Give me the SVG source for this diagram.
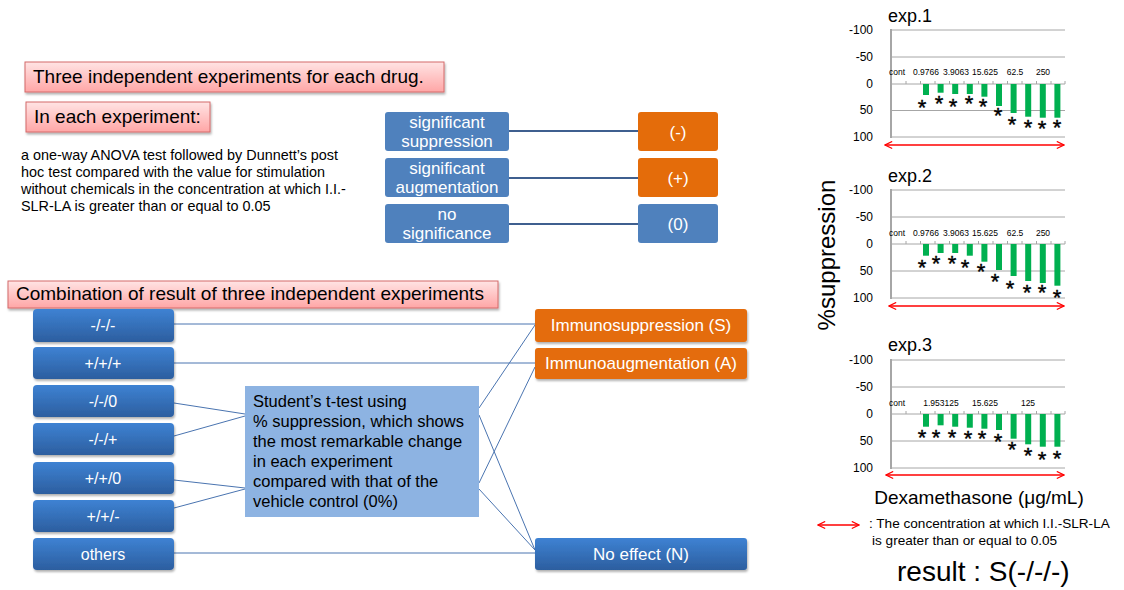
<svg xmlns="http://www.w3.org/2000/svg" width="1124" height="590" viewBox="0 0 1124 590">
<defs>
<style>
text{font-family:"Liberation Sans",Arial,sans-serif}
.w{fill:#fff}
.pink{fill:url(#pink);stroke:#D46A6A;stroke-width:1}
.bb{fill:url(#blueg)}
.mb{fill:#4F81BD}
.or{fill:#E46C0A}
.conn{stroke:#4A74B0;stroke-width:1;fill:none}
.conn2{stroke:#3F5F8F;stroke-width:2;fill:none}
.grid{stroke:#A6A6A6;stroke-width:1}
.axis{stroke:#A6A6A6;stroke-width:2}
.bar{fill:#00B050}
.ylab{font-size:12px;text-anchor:end;fill:#000}
.cat{font-size:8.5px;text-anchor:middle;fill:#000}
.ast{font-size:22px;text-anchor:middle;fill:#000;stroke:#000;stroke-width:0.4}
.ttl{font-size:18px;fill:#000}
.red{stroke:#FF0000;stroke-width:1.3;fill:none;marker-start:url(#ra);marker-end:url(#ra)}
</style>
<linearGradient id="pink" x1="0" y1="0" x2="0" y2="1"><stop offset="0" stop-color="#FFE4E4"/><stop offset="1" stop-color="#FFA6A6"/></linearGradient>
<linearGradient id="blueg" x1="0" y1="0" x2="0" y2="1"><stop offset="0" stop-color="#3E82D3"/><stop offset="1" stop-color="#2C5E9F"/></linearGradient>
<filter id="sh" x="-10%" y="-20%" width="130%" height="160%"><feDropShadow dx="1" dy="2" stdDeviation="1.2" flood-color="#000" flood-opacity="0.3"/></filter>
<marker id="ra" viewBox="0 0 10 10" refX="9" refY="5" markerWidth="9" markerHeight="9" markerUnits="userSpaceOnUse" orient="auto-start-reverse"><path d="M1,1 L9,5 L1,9" fill="none" stroke="#FF0000" stroke-width="1.3"/></marker>
</defs>

<!-- Top-left headers -->
<g id="hdr-three"><rect class="pink" x="25" y="62" width="419" height="30" filter="url(#sh)"/><text x="33" y="83" font-size="19">Three independent experiments for each drug.</text></g>
<g id="hdr-each"><rect class="pink" x="26" y="102" width="184" height="30" filter="url(#sh)"/><text x="34" y="123" font-size="19">In each experiment:</text></g>
<g id="para"><text font-size="14.4" fill="#000"><tspan x="21" y="160">a one-way ANOVA test followed by Dunnett’s post</tspan><tspan x="21" y="177">hoc test compared with the value for stimulation</tspan><tspan x="21" y="194">without chemicals in the concentration at which I.I.-</tspan><tspan x="21" y="211">SLR-LA is greater than or equal to 0.05</tspan></text></g>

<!-- Top middle classification -->
<g id="connectors-top">
<line class="conn2" x1="509" y1="131" x2="638" y2="131"/>
<line class="conn2" x1="509" y1="178" x2="638" y2="178"/>
<line class="conn2" x1="509" y1="224" x2="638" y2="224"/>
</g>
<g id="n-sigsup"><rect class="mb" x="385" y="112" width="124" height="39" rx="3"/><text class="w" font-size="17" text-anchor="middle"><tspan x="447" y="128">significant</tspan><tspan x="447" y="147">suppression</tspan></text></g>
<g id="n-sigaug"><rect class="mb" x="385" y="158" width="124" height="39" rx="3"/><text class="w" font-size="17" text-anchor="middle"><tspan x="447" y="174">significant</tspan><tspan x="447" y="193">augmentation</tspan></text></g>
<g id="n-nosig"><rect class="mb" x="385" y="204" width="124" height="39" rx="3"/><text class="w" font-size="17" text-anchor="middle"><tspan x="447" y="220">no</tspan><tspan x="447" y="239">significance</tspan></text></g>
<g id="n-minus"><rect class="or" x="638" y="112" width="80" height="39" rx="3"/><text class="w" x="678" y="138" font-size="17" text-anchor="middle">(-)</text></g>
<g id="n-plus"><rect class="or" x="638" y="158" width="80" height="39" rx="3"/><text class="w" x="678" y="184" font-size="17" text-anchor="middle">(+)</text></g>
<g id="n-zero"><rect class="mb" x="638" y="204" width="80" height="39" rx="3"/><text class="w" x="678" y="230" font-size="17" text-anchor="middle">(0)</text></g>

<!-- Bottom-left combination -->
<g id="hdr-comb"><rect class="pink" x="8" y="281" width="490" height="27" filter="url(#sh)"/><text x="16" y="300" font-size="19">Combination of result of three independent experiments</text></g>

<g id="connectors">
<line class="conn" x1="174" y1="324" x2="535" y2="324"/>
<line class="conn" x1="174" y1="363" x2="535" y2="363"/>
<line class="conn" x1="174" y1="403" x2="245" y2="414"/>
<line class="conn" x1="174" y1="436" x2="245" y2="416"/>
<line class="conn" x1="174" y1="480" x2="245" y2="488"/>
<line class="conn" x1="174" y1="508" x2="245" y2="489"/>
<line class="conn" x1="479" y1="408" x2="535" y2="325"/>
<line class="conn" x1="479" y1="415" x2="535" y2="550"/>
<line class="conn" x1="479" y1="483" x2="535" y2="367"/>
<line class="conn" x1="479" y1="489" x2="535" y2="550"/>
<line class="conn" x1="174" y1="553" x2="535" y2="553"/>
</g>

<g id="c1"><rect class="bb" x="33" y="309" width="141" height="33" rx="4" filter="url(#sh)"/><text class="w" x="103" y="331" font-size="16" text-anchor="middle">-/-/-</text></g>
<g id="c2"><rect class="bb" x="33" y="347" width="141" height="32" rx="4" filter="url(#sh)"/><text class="w" x="103" y="369" font-size="16" text-anchor="middle">+/+/+</text></g>
<g id="c3"><rect class="bb" x="33" y="385" width="141" height="32" rx="4" filter="url(#sh)"/><text class="w" x="103" y="407" font-size="16" text-anchor="middle">-/-/0</text></g>
<g id="c4"><rect class="bb" x="33" y="423" width="141" height="32" rx="4" filter="url(#sh)"/><text class="w" x="103" y="445" font-size="16" text-anchor="middle">-/-/+</text></g>
<g id="c5"><rect class="bb" x="33" y="462" width="141" height="32" rx="4" filter="url(#sh)"/><text class="w" x="103" y="484" font-size="16" text-anchor="middle">+/+/0</text></g>
<g id="c6"><rect class="bb" x="33" y="500" width="141" height="32" rx="4" filter="url(#sh)"/><text class="w" x="103" y="522" font-size="16" text-anchor="middle">+/+/-</text></g>
<g id="c7"><rect class="bb" x="33" y="538" width="141" height="32" rx="4" filter="url(#sh)"/><text class="w" x="103" y="560" font-size="16" text-anchor="middle">others</text></g>

<g id="ttest"><rect x="245" y="386" width="234" height="131" fill="#8DB3E2"/><text font-size="16.5" fill="#000"><tspan x="253" y="407">Student’s t-test using</tspan><tspan x="253" y="427">% suppression, which shows</tspan><tspan x="253" y="447">the most remarkable change</tspan><tspan x="253" y="467">in each experiment</tspan><tspan x="253" y="487">compared with that of the</tspan><tspan x="253" y="507">vehicle control (0%)</tspan></text></g>

<g id="r-s"><rect class="or" x="535" y="309" width="212" height="33" rx="3" filter="url(#sh)"/><text class="w" x="641" y="331" font-size="17" text-anchor="middle">Immunosuppression (S)</text></g>
<g id="r-a"><rect class="or" x="535" y="348" width="212" height="31" rx="3" filter="url(#sh)"/><text class="w" x="641" y="369" font-size="17" text-anchor="middle">Immunoaugmentation (A)</text></g>
<g id="r-n"><rect class="bb" x="535" y="538" width="212" height="32" rx="3" filter="url(#sh)"/><text class="w" x="641" y="560" font-size="17" text-anchor="middle">No effect (N)</text></g>

<!-- Charts -->
<g id="chart1">
<text class="ttl" x="888" y="22">exp.1</text>
<line class="grid" x1="891" y1="30" x2="1065" y2="30"/><line class="grid" x1="891" y1="57" x2="1065" y2="57"/><line class="grid" x1="891" y1="84" x2="1065" y2="84"/><line class="grid" x1="891" y1="110.5" x2="1065" y2="110.5"/><line class="grid" x1="891" y1="137" x2="1065" y2="137"/>
<path class="grid" d="M906,84v-3M920.5,84v-3M935,84v-3M949.5,84v-3M964,84v-3M978.5,84v-3M993,84v-3M1007.5,84v-3M1022,84v-3M1036.5,84v-3M1051,84v-3M1065,84v-3"/>
<line class="axis" x1="891" y1="29" x2="891" y2="138"/>
<text class="ylab" x="873" y="34">-100</text><text class="ylab" x="873" y="61">-50</text><text class="ylab" x="873" y="88">0</text><text class="ylab" x="873" y="114">50</text><text class="ylab" x="873" y="141">100</text>
<text class="cat" x="897" y="75">cont</text><text class="cat" x="926" y="75">0.9766</text><text class="cat" x="956" y="75">3.9063</text><text class="cat" x="985" y="75">15.625</text><text class="cat" x="1015" y="75">62.5</text><text class="cat" x="1043" y="75">250</text>
<rect class="bar" x="923" y="84" width="6" height="11"/><rect class="bar" x="937.6" y="84" width="6" height="8.7"/><rect class="bar" x="952.2" y="84" width="6" height="10"/><rect class="bar" x="966.8" y="84" width="6" height="10"/><rect class="bar" x="981.4" y="84" width="6" height="12.7"/><rect class="bar" x="996" y="84" width="6" height="22"/><rect class="bar" x="1010.6" y="84" width="6" height="29"/><rect class="bar" x="1025.2" y="84" width="6" height="32.7"/><rect class="bar" x="1039.8" y="84" width="6" height="33.7"/><rect class="bar" x="1054.4" y="84" width="6" height="33.7"/>
<text class="ast" x="922" y="115">*</text><text class="ast" x="939" y="111">*</text><text class="ast" x="953" y="114">*</text><text class="ast" x="969" y="111">*</text><text class="ast" x="983" y="114">*</text><text class="ast" x="998" y="123">*</text><text class="ast" x="1012" y="132">*</text><text class="ast" x="1028" y="135">*</text><text class="ast" x="1042" y="136">*</text><text class="ast" x="1057" y="135">*</text>
<line class="red" x1="885" y1="145" x2="1064" y2="145"/>
</g>

<g id="chart2">
<text class="ttl" x="888" y="182">exp.2</text>
<line class="grid" x1="891" y1="190" x2="1065" y2="190"/><line class="grid" x1="891" y1="217" x2="1065" y2="217"/><line class="grid" x1="891" y1="244" x2="1065" y2="244"/><line class="grid" x1="891" y1="271" x2="1065" y2="271"/><line class="grid" x1="891" y1="298" x2="1065" y2="298"/>
<path class="grid" d="M906,244v-3M920.5,244v-3M935,244v-3M949.5,244v-3M964,244v-3M978.5,244v-3M993,244v-3M1007.5,244v-3M1022,244v-3M1036.5,244v-3M1051,244v-3M1065,244v-3"/>
<line class="axis" x1="891" y1="189" x2="891" y2="299"/>
<text class="ylab" x="873" y="194">-100</text><text class="ylab" x="873" y="221">-50</text><text class="ylab" x="873" y="248">0</text><text class="ylab" x="873" y="275">50</text><text class="ylab" x="873" y="302">100</text>
<text class="cat" x="897" y="236">cont</text><text class="cat" x="926" y="236">0.9766</text><text class="cat" x="956" y="236">3.9063</text><text class="cat" x="985" y="236">15.625</text><text class="cat" x="1015" y="236">62.5</text><text class="cat" x="1043" y="236">250</text>
<rect class="bar" x="923" y="244" width="6" height="11.7"/><rect class="bar" x="937.6" y="244" width="6" height="9"/><rect class="bar" x="952.2" y="244" width="6" height="9"/><rect class="bar" x="966.8" y="244" width="6" height="11.7"/><rect class="bar" x="981.4" y="244" width="6" height="17.7"/><rect class="bar" x="996" y="244" width="6" height="26"/><rect class="bar" x="1010.6" y="244" width="6" height="32"/><rect class="bar" x="1025.2" y="244" width="6" height="37"/><rect class="bar" x="1039.8" y="244" width="6" height="39"/><rect class="bar" x="1054.4" y="244" width="6" height="41.7"/>
<text class="ast" x="922" y="275">*</text><text class="ast" x="936" y="271">*</text><text class="ast" x="952" y="271">*</text><text class="ast" x="965" y="275">*</text><text class="ast" x="981" y="279">*</text><text class="ast" x="995" y="289">*</text><text class="ast" x="1010" y="296">*</text><text class="ast" x="1027" y="300">*</text><text class="ast" x="1042" y="300">*</text><text class="ast" x="1057" y="305">*</text>
<line class="red" x1="889" y1="306" x2="1064" y2="306"/>
</g>

<g id="chart3">
<text class="ttl" x="888" y="351">exp.3</text>
<line class="grid" x1="891" y1="360" x2="1065" y2="360"/><line class="grid" x1="891" y1="387" x2="1065" y2="387"/><line class="grid" x1="891" y1="414" x2="1065" y2="414"/><line class="grid" x1="891" y1="441" x2="1065" y2="441"/><line class="grid" x1="891" y1="468" x2="1065" y2="468"/>
<path class="grid" d="M906,414v-3M920.5,414v-3M935,414v-3M949.5,414v-3M964,414v-3M978.5,414v-3M993,414v-3M1007.5,414v-3M1022,414v-3M1036.5,414v-3M1051,414v-3M1065,414v-3"/>
<line class="axis" x1="891" y1="359" x2="891" y2="469"/>
<text class="ylab" x="873" y="364">-100</text><text class="ylab" x="873" y="391">-50</text><text class="ylab" x="873" y="418">0</text><text class="ylab" x="873" y="445">50</text><text class="ylab" x="873" y="472">100</text>
<text class="cat" x="897" y="406">cont</text><text class="cat" x="941" y="406">1.953125</text><text class="cat" x="985" y="406">15.625</text><text class="cat" x="1028" y="406">125</text>
<rect class="bar" x="923" y="414" width="6" height="12.7"/><rect class="bar" x="937.6" y="414" width="6" height="11.3"/><rect class="bar" x="952.2" y="414" width="6" height="12.7"/><rect class="bar" x="966.8" y="414" width="6" height="13.7"/><rect class="bar" x="981.4" y="414" width="6" height="14.7"/><rect class="bar" x="996" y="414" width="6" height="16"/><rect class="bar" x="1010.6" y="414" width="6" height="24.7"/><rect class="bar" x="1025.2" y="414" width="6" height="30.3"/><rect class="bar" x="1039.8" y="414" width="6" height="32.7"/><rect class="bar" x="1054.4" y="414" width="6" height="32.7"/>
<text class="ast" x="922" y="445">*</text><text class="ast" x="936" y="445">*</text><text class="ast" x="952" y="445">*</text><text class="ast" x="968" y="446">*</text><text class="ast" x="982" y="446">*</text><text class="ast" x="998" y="449">*</text><text class="ast" x="1012" y="457">*</text><text class="ast" x="1028" y="463">*</text><text class="ast" x="1042" y="467">*</text><text class="ast" x="1057" y="466">*</text>
<line class="red" x1="886" y1="475" x2="1064" y2="475"/>
</g>

<g id="axis-labels">
<text transform="translate(835,255) rotate(-90)" font-size="24" text-anchor="middle" fill="#000">%suppression</text>
<text x="979" y="504" font-size="19" text-anchor="middle" fill="#000">Dexamethasone (μg/mL)</text>
</g>
<g id="legend">
<line class="red" x1="818" y1="525" x2="859" y2="525"/>
<text font-size="13.6" fill="#000"><tspan x="869" y="528">: The concentration at which I.I.-SLR-LA</tspan><tspan x="872" y="545">is greater than or equal to 0.05</tspan></text>
<text x="897" y="581" font-size="28" fill="#000">result : S(-/-/-)</text>
</g>
</svg>
